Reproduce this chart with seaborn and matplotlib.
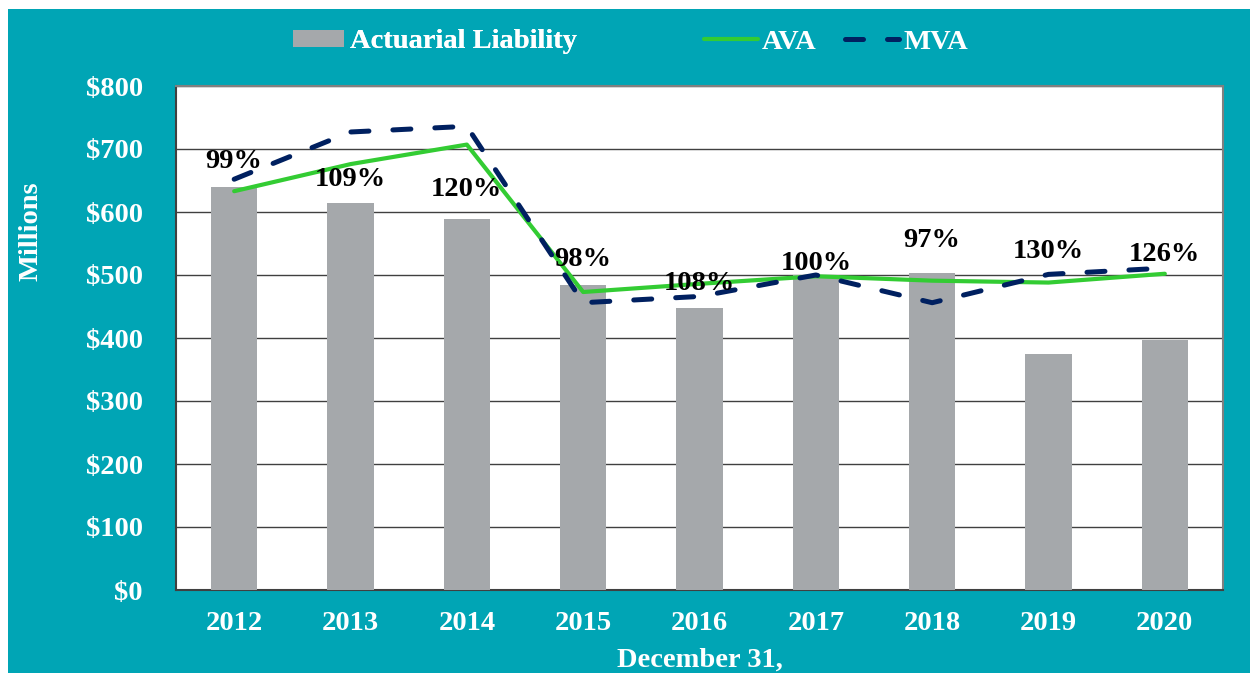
import numpy as np
import matplotlib
matplotlib.use("Agg")
import matplotlib.pyplot as plt
import matplotlib.patches as mpatches
from matplotlib.lines import Line2D
import seaborn as sns

# =========================
# Data
# =========================
years = ["2012", "2013", "2014", "2015", "2016", "2017", "2018", "2019", "2020"]
liability = [639, 615, 589, 484, 448, 500, 503, 375, 397]
ava = [633, 676, 707, 473, 486, 498, 491, 488, 502]
mva = [652, 727, 736, 456, 466, 500, 456, 501, 511]
funded_labels = ["99%", "109%", "120%", "98%", "108%", "100%", "97%", "130%", "126%"]
label_y = [680, 652, 636, 525, 486, 519, 554, 538, 533]
y_ticks = [0, 100, 200, 300, 400, 500, 600, 700, 800]

# =========================
# Style
# =========================
sns.set_style("white")
plt.rcParams["font.family"] = ["Liberation Serif", "DejaVu Serif"]
plt.rcParams["font.weight"] = "bold"

teal = "#00A5B5"
bar_gray = "#A5A8AB"
green = "#33CC33"
navy = "#002060"
fs = 20.5

W, H = 1250, 673
fig = plt.figure(figsize=(W / 100, H / 100), dpi=100, facecolor="white")
bg = mpatches.Rectangle((8 / W, 0), 1 - 8 / W, 1 - 9 / H,
                        transform=fig.transFigure,
                        facecolor=teal, edgecolor="none", zorder=-10)
fig.add_artist(bg)

ax = fig.add_axes([176 / W, 1 - 590 / H, (1223 - 176) / W, (590 - 86) / H])
ax.set_zorder(1)
ax.set_facecolor("white")

x = np.arange(len(years))
sns.barplot(x=years, y=liability, color=bar_gray, width=0.4, ax=ax,
            saturation=1, linewidth=0, zorder=3)
sns.lineplot(x=x, y=ava, color=green, linewidth=3.0, ax=ax, zorder=4)
ax.plot(x, mva, color=navy, linewidth=3.6, dashes=(3.6, 4.8),
        dash_capstyle="round", solid_capstyle="round", zorder=5)

for xi, lab, ly in zip(x, funded_labels, label_y):
    ax.text(xi, ly, lab, ha="center", va="center", fontsize=fs,
            fontweight="bold", color="black", zorder=6)

ax.set_ylim(0, 800)
ax.set_xlim(-0.5, len(years) - 0.5)
ax.set_yticks(y_ticks)
ax.set_yticklabels([f"${v}" for v in y_ticks])
ax.set_xticks(x)
ax.set_xticklabels(years)
ax.tick_params(axis="y", length=0, pad=24, labelsize=fs, labelcolor="white")
ax.tick_params(axis="x", length=0, pad=15, labelsize=fs, labelcolor="white")
for lbl in ax.get_xticklabels() + ax.get_yticklabels():
    lbl.set_fontweight("bold")
ax.grid(axis="y", color="#404040", linewidth=1.0, zorder=1)
ax.set_axisbelow(True)
for side in ["top", "right"]:
    ax.spines[side].set_color("#808080")
    ax.spines[side].set_linewidth(1.5)
for side in ["left", "bottom"]:
    ax.spines[side].set_color("#404040")
    ax.spines[side].set_linewidth(1.5)
ax.set_xlabel("")
ax.set_ylabel("")

fig.text(31 / W, 1 - 231 / H, "Millions", rotation=90, ha="center", va="center",
         fontsize=fs, fontweight="bold", color="white")
fig.text(700 / W, 1 - 660 / H, "December 31,", ha="center", va="center",
         fontsize=fs, fontweight="bold", color="white")

# =========================
# Legends
# =========================
bar_handle = mpatches.Patch(facecolor=bar_gray, edgecolor="none")
leg1 = fig.legend([bar_handle], ["Actuarial Liability"], loc="center",
                  bbox_to_anchor=(435 / W, 1 - 42 / H), frameon=False,
                  prop={"size": fs, "weight": "bold"}, handlelength=1.8,
                  handleheight=0.55, handletextpad=0.2, labelcolor="white")
ava_handle = Line2D([], [], color=green, linewidth=3.0)
mva_handle = Line2D([], [], color=navy, linewidth=3.6, dashes=(3.6, 4.8),
                    dash_capstyle="round")
leg2 = fig.legend([ava_handle, mva_handle], ["AVA", "MVA"], loc="center",
                  bbox_to_anchor=(836 / W, 1 - 42 / H), frameon=False, ncol=2,
                  prop={"size": fs, "weight": "bold"}, handlelength=1.9,
                  handletextpad=0.15, columnspacing=1.0, labelcolor="white")
fig.add_artist(leg1)

fig.savefig("out.png", dpi=100, facecolor=fig.get_facecolor())
